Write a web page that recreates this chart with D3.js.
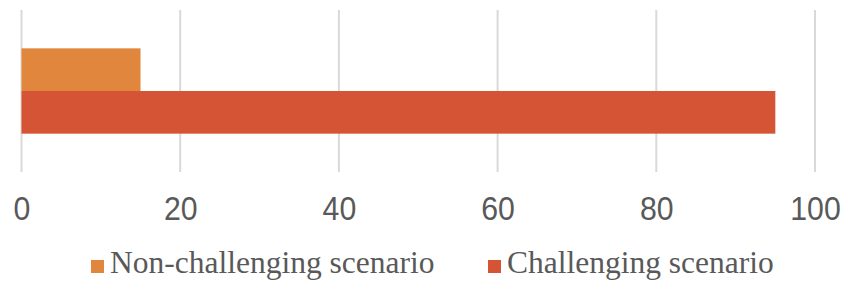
<!DOCTYPE html>
<html>
<head>
<meta charset="utf-8">
<title>Scenarios</title>
<script src="https://d3js.org/d3.v7.min.js"></script>
<style>
  body { margin: 0; background: #fff; }
  .grid line { stroke: #d9d9d9; stroke-width: 2; }
  .axis text { fill: #595959; font-family: "Liberation Sans", Arial, sans-serif; font-size: 34px; }
  .legend text { fill: #595959; font-family: "Liberation Serif", "Times New Roman", serif; font-size: 31.5px; }
</style>
</head>
<body>
<div id="chart"></div>
<script>
// chart values
var categories = [""];
var seriesNames = ["Non-challenging scenario", "Challenging scenario"];
var nonChallenging = [15];
var challenging = [95];
var tickValues = [0, 20, 40, 60, 80, 100];
var colors = ["#e0873d", "#d45435"];

var width = 854, height = 298;
var plot = { left: 21.5, right: 815, top: 10, bottom: 172 };

var rows = categories.map(function (c, i) {
  return { cat: c, values: [nonChallenging[i], challenging[i]] };
});

var svg = d3.select("#chart").append("svg")
  .attr("width", width)
  .attr("height", height);

var x = d3.scaleLinear().domain([0, 100]).range([plot.left, plot.right]);
var y0 = d3.scaleBand().domain(categories).range([plot.top, plot.bottom]).padding(0.31);
var y1 = d3.scaleBand().domain(d3.range(seriesNames.length)).range([0, y0.bandwidth()]);

// vertical gridlines
svg.append("g").attr("class", "grid")
  .selectAll("line")
  .data(tickValues)
  .enter().append("line")
  .attr("x1", function (d) { return x(d); })
  .attr("x2", function (d) { return x(d); })
  .attr("y1", plot.top)
  .attr("y2", plot.bottom);

// bars
var group = svg.selectAll(".cat")
  .data(rows)
  .enter().append("g")
  .attr("class", "cat")
  .attr("transform", function (d) { return "translate(0," + y0(d.cat) + ")"; });

group.selectAll("rect")
  .data(function (d) { return d.values; })
  .enter().append("rect")
  .attr("x", x(0))
  .attr("y", function (d, i) { return y1(i); })
  .attr("width", function (d) { return x(d) - x(0); })
  .attr("height", y1.bandwidth())
  .attr("fill", function (d, i) { return colors[i]; });

// x axis labels
var xAxis = d3.axisBottom(x).tickValues(tickValues).tickSize(0).tickPadding(0);
var ax = svg.append("g").attr("class", "axis")
  .attr("transform", "translate(0,220)")
  .call(xAxis);
ax.select(".domain").remove();
ax.selectAll("text")
  .attr("y", 0)
  .attr("dy", 0)
  .attr("transform", "scale(0.89,1)");

// legend
var legendX = [91, 488];
var legend = svg.append("g").attr("class", "legend")
  .selectAll("g")
  .data(seriesNames)
  .enter().append("g")
  .attr("transform", function (d, i) { return "translate(" + legendX[i] + ",260)"; });

legend.append("rect")
  .attr("width", 13)
  .attr("height", 13)
  .attr("fill", function (d, i) { return colors[i]; });

legend.append("text")
  .attr("x", 19)
  .attr("y", 13)
  .text(function (d) { return d; });
</script>
</body>
</html>
